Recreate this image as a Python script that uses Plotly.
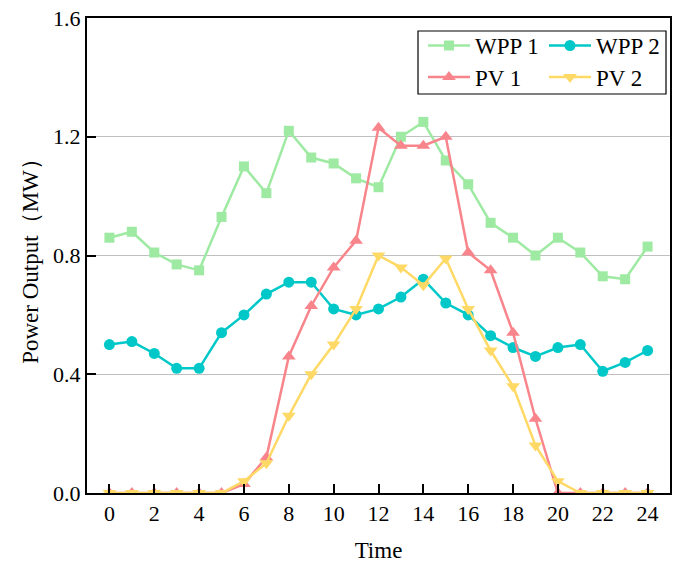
import plotly.graph_objects as go

hours = list(range(25))
wpp1 = [0.86, 0.88, 0.81, 0.77, 0.75, 0.93, 1.10, 1.01, 1.22, 1.13, 1.11, 1.06, 1.03,
        1.20, 1.25, 1.12, 1.04, 0.91, 0.86, 0.80, 0.86, 0.81, 0.73, 0.72, 0.83]
wpp2 = [0.50, 0.51, 0.47, 0.42, 0.42, 0.54, 0.60, 0.67, 0.71, 0.71, 0.62, 0.60, 0.62,
        0.66, 0.72, 0.64, 0.60, 0.53, 0.49, 0.46, 0.49, 0.50, 0.41, 0.44, 0.48]
pv1 = [0, 0, 0, 0, 0, 0, 0.03, 0.12, 0.46, 0.63, 0.76, 0.85, 1.23,
       1.17, 1.17, 1.20, 0.81, 0.75, 0.54, 0.25, 0, 0, 0, 0, 0]
pv2 = [0, 0, 0, 0, 0, 0, 0.04, 0.10, 0.26, 0.40, 0.50, 0.62, 0.80,
       0.76, 0.70, 0.79, 0.62, 0.48, 0.36, 0.16, 0.04, 0, 0, 0, 0]
xticks = list(range(0, 25, 2))
yticks = [0.0, 0.4, 0.8, 1.2, 1.6]

FONT = "Liberation Serif"

series = [
    ("WPP 1", wpp1, "#9EEAA2", "square", 10, "legend"),
    ("WPP 2", wpp2, "#00C8C8", "circle", 11, "legend"),
    ("PV 1", pv1, "#F8858B", "triangle-up", 12, "legend2"),
    ("PV 2", pv2, "#FFD966", "triangle-down", 12, "legend2"),
]

fig = go.Figure()
for name, vals, color, sym, size, lg in series:
    fig.add_trace(go.Scatter(
        x=hours, y=vals, name=name, mode="lines+markers",
        line=dict(color=color, width=2.5),
        marker=dict(symbol=sym, size=size, color=color),
        legend=lg,
    ))

legend_common = dict(
    orientation="h", xanchor="left", yanchor="middle",
    font=dict(family=FONT, size=23, color="black"),
    bgcolor="rgba(0,0,0,0)", borderwidth=0,
    entrywidth=64, entrywidthmode="pixels", itemwidth=42,
    tracegroupgap=0,
)

fig.update_layout(
    width=681, height=570,
    margin=dict(l=87, r=11, t=18, b=77, autoexpand=False),
    paper_bgcolor="white", plot_bgcolor="white",
    font=dict(family=FONT, size=22, color="black"),
    legend=dict(x=0.5763, y=0.942, **legend_common),
    legend2=dict(x=0.5763, y=0.8755, **legend_common),
    shapes=[dict(type="rect", xref="paper", yref="paper",
                 x0=(418 - 87) / 583, x1=(666 - 87) / 583,
                 y0=(493 - 94) / 475, y1=(493 - 31) / 475,
                 line=dict(color="black", width=1.2), fillcolor="rgba(0,0,0,0)")],
)

fig.update_xaxes(
    range=[-1, 25], tickvals=xticks, ticktext=[str(t) for t in xticks],
    showgrid=False, showline=True, linecolor="black", linewidth=2, mirror=True,
    ticks="inside", ticklen=9, tickwidth=2, tickcolor="black",
    tickfont=dict(family=FONT, size=22),
    title=dict(text="Time", font=dict(family=FONT, size=23), standoff=16),
    zeroline=False,
)
fig.update_yaxes(
    range=[0, 1.6], tickvals=yticks, ticktext=[f"{t:.1f}" for t in yticks],
    showgrid=True, gridcolor="#C0C0C0", gridwidth=1,
    showline=True, linecolor="black", linewidth=2, mirror=True,
    ticks="inside", ticklen=9, tickwidth=2, tickcolor="black",
    tickfont=dict(family=FONT, size=22),
    title=dict(text="Power Output（MW）", font=dict(family=FONT, size=23), standoff=8),
    zeroline=False,
)

fig.write_html("out.html")
